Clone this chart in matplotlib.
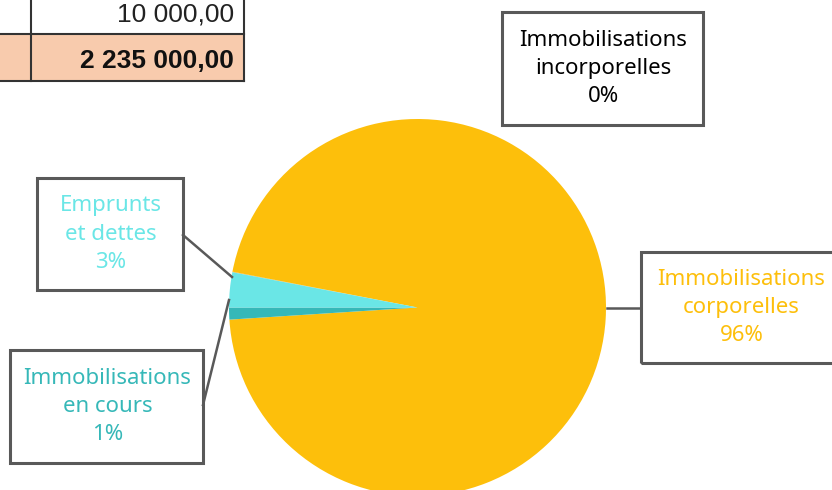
import matplotlib.pyplot as plt
from matplotlib.patches import Rectangle

# montants (EUR)
categories = ["Immobilisations\nincorporelles", "Immobilisations\ncorporelles",
              "Immobilisations\nen cours", "Emprunts\net dettes"]
montants = [1000, 2144000, 23000, 67000]
couleurs = ["#F5A623", "#FDBF0B", "#36B8B8", "#6AE6E6"]
couleurs_txt = ["#000000", "#FDBF0B", "#36B8B8", "#6AE6E6"]

# bout du tableau en haut a gauche
tab_valeurs = ["10 000,00", "2 235 000,00"]

W, H = 832, 490
fig = plt.figure(figsize=(W / 100, H / 100), dpi=100)
ax = fig.add_axes([0, 0, 1, 1])

def Y(y):
    return H - y

# camembert
cx, cy, r = 417.5, 307.5, 188.5
ax.pie(montants, colors=couleurs, startangle=169.2, counterclock=False,
       center=(cx, Y(cy)), radius=r, wedgeprops=dict(linewidth=0))

total = sum(montants)
pcts = [f"{m / total * 100:.0f}%" for m in montants]

# boites des etiquettes (x0, y0, x1, y1 en pixels depuis le haut)
boites = [(502, 12, 703, 125), (641, 252, 840, 363),
          (10, 350, 203, 463), (37, 178, 183, 290)]
for (x0, y0, x1, y1), cat, p, c in zip(boites, categories, pcts, couleurs_txt):
    ax.add_patch(Rectangle((x0, Y(y1)), x1 - x0, y1 - y0, fill=False,
                           edgecolor="#595959", linewidth=2.2, zorder=5))
    ax.text((x0 + x1) / 2 + 1, Y((y0 + y1) / 2), cat + "\n" + p, color=c,
            ha="center", va="center", fontsize=16, family="Noto Sans",
            linespacing=1.45, zorder=6)

# traits de rappel
ax.plot([607, 641], [Y(307.7), Y(307.7)], color="#595959", lw=1.8)
ax.plot([183, 232], [Y(235), Y(277)], color="#595959", lw=1.8)
ax.plot([203, 229], [Y(405), Y(300)], color="#595959", lw=1.8)

# tableau
ax.add_patch(Rectangle((-5, Y(81)), 249, 47, facecolor="#F8CBAD",
                       edgecolor="none", zorder=1))
ax.plot([-5, 244], [Y(34), Y(34)], color="#333333", lw=1.5)
ax.plot([-5, 244], [Y(81), Y(81)], color="#333333", lw=1.5)
ax.plot([31, 31], [Y(-5), Y(81)], color="#333333", lw=1.5)
ax.plot([244, 244], [Y(-5), Y(81)], color="#333333", lw=1.5)
ax.text(234, Y(15), tab_valeurs[0], ha="right", va="center", fontsize=19,
        family="Liberation Sans", color="#222222")
ax.text(234, Y(61), tab_valeurs[1], ha="right", va="center", fontsize=19,
        family="Liberation Sans", fontweight="bold", color="#111111")

ax.set_xlim(0, W)
ax.set_ylim(0, H)
ax.set_aspect("equal")
ax.axis("off")
fig.savefig("out.png", dpi=100)
